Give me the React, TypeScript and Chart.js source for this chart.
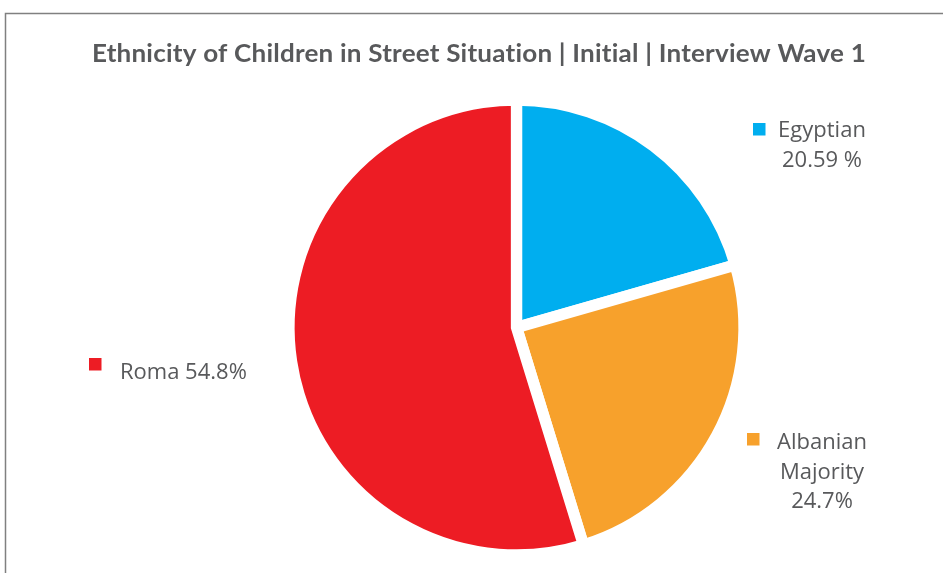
import React, { useEffect, useRef } from "react";
import { Chart, registerables } from "chart.js";

Chart.register(...registerables);

const categories = ["Egyptian", "Albanian Majority", "Roma"];
const values = [20.59, 24.7, 54.8];
const labelLines = [["Egyptian", "20.59 %"], ["Albanian", "Majority", "24.7%"], ["Roma 54.8%"]];
const sliceColors = ["#00AEEF", "#F7A12C", "#ED1C24"];
const titleText = "Ethnicity of Children in Street Situation | Initial | Interview Wave 1";

const labelLayout = [
  { x: 822, y: 137, align: "center", mx: 753, my: 123 },
  { x: 822, y: 449, align: "center", mx: 747, my: 433 },
  { x: 120, y: 378.5, align: "left", mx: 89, my: 358 },
];

const TEXT_COLOR = "#58595b";

const decorPlugin = {
  id: "decor",
  beforeDraw(chart: any) {
    const ctx = chart.ctx as CanvasRenderingContext2D;
    ctx.save();
    ctx.strokeStyle = "#808080";
    ctx.lineWidth = 1.5;
    ctx.beginPath();
    ctx.moveTo(5.5, 573);
    ctx.lineTo(5.5, 13.5);
    ctx.lineTo(943, 13.5);
    ctx.stroke();
    ctx.restore();
  },
  afterDraw(chart: any) {
    const ctx = chart.ctx as CanvasRenderingContext2D;
    ctx.save();
    ctx.fillStyle = TEXT_COLOR;
    ctx.font = "bold 25px Lato";
    (ctx as any).letterSpacing = "0.2px";
    ctx.textBaseline = "alphabetic";
    ctx.textAlign = "center";
    const w = ctx.measureText(titleText).width;
    const s = 774 / w;
    ctx.translate(479, 62);
    ctx.scale(s, 1);
    ctx.fillText(titleText, 0, 0);
    ctx.restore();

    ctx.save();
    ctx.font = "22px 'Open Sans'";
    ctx.textBaseline = "alphabetic";
    labelLines.forEach((lines, i) => {
      const L = labelLayout[i];
      ctx.fillStyle = sliceColors[i];
      ctx.fillRect(L.mx, L.my, 12.5, 12.5);
      ctx.fillStyle = TEXT_COLOR;
      ctx.textAlign = L.align as CanvasTextAlign;
      lines.forEach((t, j) => ctx.fillText(t, L.x, L.y + j * 29.5));
    });
    ctx.restore();
  },
};

export default function App() {
  const ref = useRef<HTMLCanvasElement | null>(null);
  useEffect(() => {
    if (!ref.current) return;
    const chart = new Chart(ref.current, {
      type: "pie",
      data: {
        labels: categories,
        datasets: [
          {
            data: values,
            backgroundColor: sliceColors,
            borderColor: "#ffffff",
            borderWidth: 11.3,
            borderJoinStyle: "miter",
          } as any,
        ],
      },
      options: {
        responsive: false,
        animation: false,
        events: [],
        radius: 227.5,
        layout: { padding: { left: 90, right: 0, top: 82, bottom: 0 } },
        plugins: {
          legend: { display: false },
          tooltip: { enabled: false },
          title: { display: false },
        },
      } as any,
      plugins: [decorPlugin],
    });
    return () => chart.destroy();
  }, []);
  return (
    <div style={{ position: "absolute", left: 0, top: 0, width: 943, height: 573, background: "#fff" }}>
      <canvas ref={ref} width={943} height={573} style={{ display: "block" }} />
    </div>
  );
}
